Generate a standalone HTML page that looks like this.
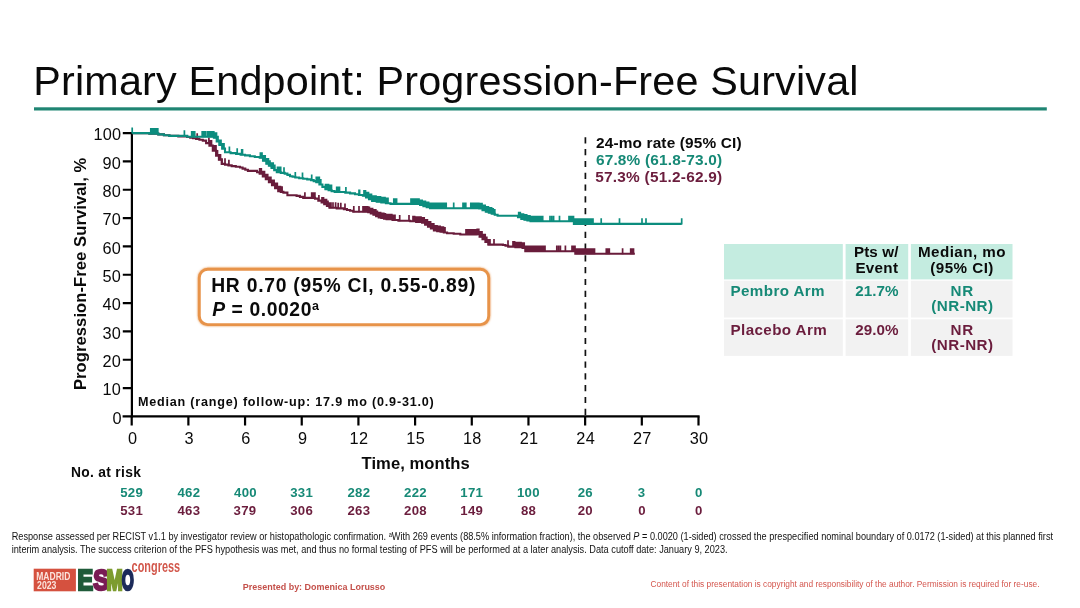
<!DOCTYPE html>
<html lang="en">
<head>
<meta charset="utf-8">
<title>Primary Endpoint: Progression-Free Survival</title>
<style>
html,body{margin:0;padding:0;background:#fff;}
body{width:1080px;height:608px;position:relative;overflow:hidden;}
svg{position:absolute;left:0;top:0;display:block;}
svg text{font-family:"Liberation Sans",Arial,sans-serif;white-space:pre;}
</style>
</head>
<body>
<svg width="1080" height="608" viewBox="0 0 1080 608">
<defs>
<filter id="glow" x="-5%" y="-20%" width="110%" height="140%"><feGaussianBlur in="SourceGraphic" stdDeviation="0.9" result="b"/><feMerge><feMergeNode in="b"/><feMergeNode in="SourceGraphic"/></feMerge></filter>
</defs>
<rect x="0" y="0" width="1080" height="608" fill="#fff"/>
<rect x="34" y="107.3" width="1012.8" height="3.2" fill="#1f8573"/>
<g>
<rect x="724" y="244" width="118.8" height="35.4" fill="#c4ece0"/><rect x="845.6" y="244" width="62.6" height="35.4" fill="#c4ece0"/><rect x="910.9" y="244" width="101.6" height="35.4" fill="#c4ece0"/>
<rect x="724" y="280.7" width="118.8" height="36.8" fill="#f2f2f2"/><rect x="845.6" y="280.7" width="62.6" height="36.8" fill="#f2f2f2"/><rect x="910.9" y="280.7" width="101.6" height="36.8" fill="#f2f2f2"/>
<rect x="724" y="319.3" width="118.8" height="36.6" fill="#f2f2f2"/><rect x="845.6" y="319.3" width="62.6" height="36.6" fill="#f2f2f2"/><rect x="910.9" y="319.3" width="101.6" height="36.6" fill="#f2f2f2"/>
</g>
<path d="M131.9 132v285.6" stroke="#000" stroke-width="2.2" fill="none"/>
<path d="M122.6 416.4H699.6" stroke="#000" stroke-width="2.3" fill="none"/>
<path d="M122.8 388.07H131.9M122.8 359.74H131.9M122.8 331.41H131.9M122.8 303.08H131.9M122.8 274.75H131.9M122.8 246.42H131.9M122.8 218.09H131.9M122.8 189.76H131.9M122.8 161.43H131.9M122.8 133.10H131.9M131.70 416.4V425.6M188.38 416.4V425.6M245.06 416.4V425.6M301.74 416.4V425.6M358.42 416.4V425.6M415.10 416.4V425.6M471.78 416.4V425.6M528.46 416.4V425.6M585.14 416.4V425.6M641.82 416.4V425.6M698.50 416.4V425.6" stroke="#000" stroke-width="2.2" fill="none"/>
<path d="M585.4 137.3V416.4" stroke="#111" stroke-width="1.7" stroke-dasharray="6.2 5.6" fill="none"/>
<path d="M132.2 133.1H149.4V133.6H158.3V134.4H163.9V135.2H169.4V135.9H178.3V136.4H187.2V137.0H190.2V137.6H193.1V138.3H196.1V138.9H199.4V139.8H202.8V140.6H206.1V143.1H209.4V145.6H212.8V150.6H216.1V155.6H218.9V159.8H221.7V163.9H225.0V164.6H228.4V165.4H231.7V166.1H235.8V166.8H240.0V167.5H242.6V168.6H245.3V169.8H247.9V170.9H254.5V170.9H257.1V172.2H259.7V173.6H262.8V176.4H265.8V179.3H268.9V182.1H272.0V185.2H275.1V188.2H278.2V191.3H280.8V191.9H283.4V192.6H287.4V195.3H296.6V195.9H299.9V196.9H303.2V197.9H315.0V198.6H318.3V200.6H321.6V202.5H324.2V204.3H326.9V206.0H329.5V207.8H336.7V208.4H343.9V209.1H347.0V210.0H350.1V210.8H353.2V211.7H368.2V212.1H370.8V213.4H373.4V214.8H376.1V216.1H378.7V217.4H381.3V218.0H384.0V218.7H386.6V219.3H392.5V220.0H398.4V220.7H410.3V221.3H416.2V221.9H422.1V222.6H425.1V224.6H428.0V226.6H430.9V228.5H433.9V230.5H437.2V231.2H440.5V231.8H443.8V232.5H447.1V233.2H453.7V233.8H460.3V234.5H476.6V234.1H479.6V236.7H482.5V239.3H485.4V242.0H488.4V244.6H502.9V245.0H505.5V245.8H508.2V246.6H515.4V247.2H522.6V247.9H525.3V251.2H572.6V251.2H575.3V253.8H634.8V253.8" fill="none" stroke="#691c3b" stroke-width="2.1" stroke-linejoin="miter"/>
<path d="M197.2 139.4v-6.1 M208.9 143.6v-6.1 M210.0 146.1v-6.1 M211.5 146.1v-6.1 M213.0 151.1v-6.1 M214.5 151.1v-6.1 M216.0 151.1v-6.1 M217.5 156.1v-6.1 M219.0 160.2v-6.1 M220.5 160.2v-6.1 M222.0 164.4v-6.1 M225.0 164.4v-6.1 M228.9 165.9v-6.1 M259.7 174.1v-6.1 M261.3 174.1v-6.1 M262.9 176.9v-6.1 M264.5 176.9v-6.1 M266.1 179.8v-6.1 M267.7 179.8v-6.1 M269.3 182.6v-6.1 M270.9 182.6v-6.1 M272.5 185.7v-6.1 M274.1 185.7v-6.1 M275.7 188.7v-6.1 M277.3 188.7v-6.1 M278.9 191.8v-6.1 M280.5 191.8v-6.1 M282.1 192.4v-6.1 M304.9 198.4v-6.1 M311.7 198.4v-6.1 M313.3 198.4v-6.1 M314.9 198.4v-6.1 M318.9 201.1v-6.1 M322.0 203.0v-6.1 M323.5 203.0v-6.1 M325.0 204.8v-6.1 M326.5 204.8v-6.1 M328.0 206.5v-6.1 M329.5 208.3v-6.1 M331.0 208.3v-6.1 M333.0 208.3v-6.1 M335.6 208.3v-6.1 M338.2 208.9v-6.1 M340.8 208.9v-6.1 M345.0 209.6v-6.1 M353.8 212.2v-6.1 M359.0 212.2v-6.1 M363.0 212.2v-6.1 M364.6 212.2v-6.1 M366.2 212.2v-6.1 M367.8 212.2v-6.1 M369.4 212.6v-6.1 M371.0 213.9v-6.1 M372.6 213.9v-6.1 M374.2 215.2v-6.1 M375.8 215.2v-6.1 M377.4 216.6v-6.1 M379.0 217.9v-6.1 M380.6 217.9v-6.1 M382.2 218.5v-6.1 M383.8 218.5v-6.1 M385.4 219.2v-6.1 M387.0 219.8v-6.1 M388.6 219.8v-6.1 M390.2 219.8v-6.1 M391.8 219.8v-6.1 M393.4 220.5v-6.1 M395.0 220.5v-6.1 M399.7 221.2v-6.1 M409.0 221.2v-6.1 M413.0 221.8v-6.1 M414.6 221.8v-6.1 M416.2 222.4v-6.1 M417.8 222.4v-6.1 M419.4 222.4v-6.1 M421.0 222.4v-6.1 M422.6 223.1v-6.1 M424.2 223.1v-6.1 M425.8 225.1v-6.1 M427.4 225.1v-6.1 M429.0 227.1v-6.1 M430.6 227.1v-6.1 M432.2 229.0v-6.1 M433.8 229.0v-6.1 M435.4 231.0v-6.1 M437.0 231.0v-6.1 M438.6 231.7v-6.1 M440.2 231.7v-6.1 M441.8 232.3v-6.1 M443.4 232.3v-6.1 M445.0 233.0v-6.1 M466.0 235.0v-6.1 M467.6 235.0v-6.1 M469.2 235.0v-6.1 M470.8 235.0v-6.1 M472.4 235.0v-6.1 M474.0 235.0v-6.1 M475.6 235.0v-6.1 M477.2 234.6v-6.1 M478.8 234.6v-6.1 M480.4 237.2v-6.1 M482.0 237.2v-6.1 M483.6 239.8v-6.1 M485.2 239.8v-6.1 M486.8 242.5v-6.1 M488.4 245.1v-6.1 M490.0 245.1v-6.1 M494.0 245.1v-6.1 M508.0 246.3v-6.1 M513.0 247.1v-6.1 M514.6 247.1v-6.1 M516.2 247.8v-6.1 M517.8 247.8v-6.1 M519.4 247.8v-6.1 M521.0 247.8v-6.1 M522.6 248.4v-6.1 M524.2 248.4v-6.1 M525.8 251.7v-6.1 M527.4 251.7v-6.1 M529.0 251.7v-6.1 M530.6 251.7v-6.1 M532.2 251.7v-6.1 M533.8 251.7v-6.1 M535.4 251.7v-6.1 M537.0 251.7v-6.1 M538.6 251.7v-6.1 M540.2 251.7v-6.1 M541.8 251.7v-6.1 M543.4 251.7v-6.1 M545.0 251.7v-6.1 M556.8 251.7v-6.1 M558.6 251.7v-6.1 M560.4 251.7v-6.1 M565.4 251.7v-6.1 M572.0 251.7v-6.1 M573.5 251.7v-6.1 M575.0 251.7v-6.1 M576.5 254.3v-6.1 M578.0 254.3v-6.1 M579.5 254.3v-6.1 M581.0 254.3v-6.1 M582.5 254.3v-6.1 M584.0 254.3v-6.1 M585.5 254.3v-6.1 M587.0 254.3v-6.1 M588.5 254.3v-6.1 M590.0 254.3v-6.1 M591.5 254.3v-6.1 M593.0 254.3v-6.1 M594.5 254.3v-6.1 M606.3 254.3v-6.1 M607.8 254.3v-6.1 M609.3 254.3v-6.1 M622.6 254.3v-6.1 M630.7 254.3v-6.1 M632.1 254.3v-6.1 M633.5 254.3v-6.1" stroke="#691c3b" stroke-width="1.7" fill="none"/>
<path d="M132.2 133.1H149.4V133.6H158.3V134.4H163.9V135.2H169.4V135.9H187.2V136.7H210.0V136.7H213.9V137.8H216.7V141.4H219.4V145.0H222.2V148.6H225.0V152.2H230.6V153.1H236.1V153.9H240.6V154.7H245.0V155.4H249.9V156.2H254.8V157.0H259.7V157.8H263.0V160.8H266.3V163.7H268.9V165.8H271.6V167.9H274.2V170.1H276.8V172.2H280.8V172.9H284.7V173.6H287.4V174.9H290.0V176.2H292.6V176.8H295.3V177.5H299.2V178.2H303.2V178.8H307.2V179.4H311.1V180.1H313.7V181.1H316.3V182.1H319.4V184.5H322.4V186.9H325.5V189.3H328.6V190.2H331.6V191.1H334.7V192.0H345.3V192.6H350.1V193.4H355.0V194.3H358.9V195.0H362.9V195.7H366.0V197.4H369.0V199.2H372.1V200.9H376.7V201.7H381.3V202.4H385.9V203.2H390.5V203.9H416.8V203.9H420.1V205.0H423.4V206.1H426.7V207.1H430.0V208.2H479.2V208.4H482.5V210.1H485.8V211.7H488.8V212.7H491.7V213.7H494.7V214.7H497.6V215.7H514.7V215.7H518.0V217.3H521.3V218.9H524.4V219.7H527.4V220.5H530.5V221.3H570.0V221.3H573.9V223.9H681.7V223.9" fill="none" stroke="#0c8d7e" stroke-width="2.1" stroke-linejoin="miter"/>
<path d="M132.2 133.6v-6.1 M150.8 134.1v-6.1 M152.2 134.1v-6.1 M153.6 134.1v-6.1 M155.0 134.1v-6.1 M156.4 134.1v-6.1 M157.8 134.1v-6.1 M184.4 136.4v-6.1 M191.7 137.2v-6.1 M193.2 137.2v-6.1 M194.7 137.2v-6.1 M202.2 137.2v-6.1 M203.8 137.2v-6.1 M205.4 137.2v-6.1 M207.4 137.2v-6.1 M209.0 137.2v-6.1 M210.6 137.2v-6.1 M212.2 137.2v-6.1 M213.8 137.2v-6.1 M215.0 138.3v-6.1 M216.5 138.3v-6.1 M218.0 141.9v-6.1 M219.5 145.5v-6.1 M221.0 145.5v-6.1 M222.5 149.1v-6.1 M224.0 149.1v-6.1 M229.4 152.7v-6.1 M237.2 154.4v-6.1 M241.7 155.2v-6.1 M242.5 155.2v-6.1 M260.4 158.3v-6.1 M262.0 158.3v-6.1 M263.6 161.2v-6.1 M265.2 161.2v-6.1 M266.8 164.2v-6.1 M268.4 164.2v-6.1 M270.0 166.3v-6.1 M271.6 168.4v-6.1 M273.2 168.4v-6.1 M274.8 170.6v-6.1 M277.5 172.7v-6.1 M279.1 172.7v-6.1 M280.7 172.7v-6.1 M284.0 173.4v-6.1 M295.3 178.0v-6.1 M302.5 178.7v-6.1 M311.7 180.6v-6.1 M316.3 182.6v-6.1 M317.8 182.6v-6.1 M319.3 182.6v-6.1 M320.8 185.0v-6.1 M325.5 189.8v-6.1 M327.0 189.8v-6.1 M328.5 189.8v-6.1 M330.0 190.7v-6.1 M331.5 190.7v-6.1 M336.7 192.5v-6.1 M338.1 192.5v-6.1 M339.5 192.5v-6.1 M345.9 193.1v-6.1 M359.0 195.5v-6.1 M359.6 195.5v-6.1 M364.0 196.2v-6.1 M365.5 196.2v-6.1 M367.0 197.9v-6.1 M368.5 197.9v-6.1 M370.0 199.7v-6.1 M371.5 199.7v-6.1 M373.0 201.4v-6.1 M374.5 201.4v-6.1 M376.0 201.4v-6.1 M377.5 202.2v-6.1 M379.0 202.2v-6.1 M380.5 202.2v-6.1 M382.0 202.9v-6.1 M383.5 202.9v-6.1 M385.0 202.9v-6.1 M386.5 203.7v-6.1 M388.0 203.7v-6.1 M393.8 204.4v-6.1 M395.2 204.4v-6.1 M396.6 204.4v-6.1 M411.0 204.4v-6.1 M412.6 204.4v-6.1 M414.2 204.4v-6.1 M415.8 204.4v-6.1 M417.4 204.4v-6.1 M419.0 204.4v-6.1 M420.6 205.5v-6.1 M422.2 205.5v-6.1 M423.8 206.6v-6.1 M425.4 206.6v-6.1 M427.0 207.6v-6.1 M428.6 207.6v-6.1 M430.2 208.7v-6.1 M431.8 208.7v-6.1 M433.4 208.7v-6.1 M435.0 208.7v-6.1 M436.6 208.7v-6.1 M438.2 208.7v-6.1 M439.8 208.7v-6.1 M441.4 208.7v-6.1 M443.0 208.7v-6.1 M444.6 208.7v-6.1 M446.2 208.7v-6.1 M453.7 208.7v-6.1 M463.0 208.7v-6.1 M464.4 208.7v-6.1 M465.8 208.7v-6.1 M470.8 208.7v-6.1 M472.4 208.7v-6.1 M474.0 208.7v-6.1 M475.6 208.7v-6.1 M477.2 208.7v-6.1 M478.8 208.7v-6.1 M480.4 208.9v-6.1 M482.0 208.9v-6.1 M483.6 210.6v-6.1 M485.2 210.6v-6.1 M486.8 212.2v-6.1 M488.4 212.2v-6.1 M490.0 213.2v-6.1 M491.6 213.2v-6.1 M493.2 214.2v-6.1 M494.8 215.2v-6.1 M518.7 217.8v-6.1 M520.3 217.8v-6.1 M521.9 219.4v-6.1 M523.5 219.4v-6.1 M525.1 220.2v-6.1 M526.7 220.2v-6.1 M528.3 221.0v-6.1 M529.9 221.0v-6.1 M531.5 221.8v-6.1 M533.1 221.8v-6.1 M534.7 221.8v-6.1 M536.3 221.8v-6.1 M537.9 221.8v-6.1 M539.5 221.8v-6.1 M541.1 221.8v-6.1 M542.7 221.8v-6.1 M550.0 221.8v-6.1 M551.8 221.8v-6.1 M553.6 221.8v-6.1 M559.5 221.8v-6.1 M569.0 221.8v-6.1 M570.5 221.8v-6.1 M572.0 221.8v-6.1 M573.5 221.8v-6.1 M575.0 224.4v-6.1 M576.5 224.4v-6.1 M578.0 224.4v-6.1 M579.5 224.4v-6.1 M581.0 224.4v-6.1 M582.5 224.4v-6.1 M584.0 224.4v-6.1 M585.5 224.4v-6.1 M587.0 224.4v-6.1 M588.5 224.4v-6.1 M590.0 224.4v-6.1 M591.5 224.4v-6.1 M593.0 224.4v-6.1 M601.2 224.4v-6.1 M619.5 224.4v-6.1 M642.0 224.4v-6.1 M646.0 224.4v-6.1 M681.7 224.4v-6.1" stroke="#0c8d7e" stroke-width="1.7" fill="none"/>

<rect x="199.3" y="269.2" width="289.4" height="55.4" rx="8.5" ry="8.5" fill="#fff" stroke="#e7934a" stroke-width="2.9" filter="url(#glow)"/>
<g>
<rect x="33.7" y="568.7" width="42.2" height="22.6" fill="#d5513f"/>
<g transform="translate(0,590.26) scale(0.2,0.2861)"><text y="0" style="font-size:100px;font-weight:bold" stroke-width="9" stroke-linejoin="miter"><tspan x="387.8" textLength="78.0" lengthAdjust="spacingAndGlyphs" fill="#1f5b3a" stroke="#1f5b3a">E</tspan><tspan x="466.4" textLength="79.5" lengthAdjust="spacingAndGlyphs" fill="#7a1c55" stroke="#7a1c55">S</tspan><tspan x="532.0" textLength="81.1" lengthAdjust="spacingAndGlyphs" fill="#7d9c2f" stroke="#7d9c2f">M</tspan><tspan x="608.9" textLength="60.4" lengthAdjust="spacingAndGlyphs" fill="#1c2b5a" stroke="#1c2b5a">O</tspan></text></g>
</g>
<text x="33.30" y="95.0" style="font-size:41.3px;font-weight:normal;letter-spacing:0.193px" fill="#0a0a0a">Primary Endpoint: Progression-Free Survival</text>
<text x="112.40" y="423.60" style="font-size:16.3px;font-weight:normal;letter-spacing:0.3px" fill="#0a0a0a">0</text>
<text x="102.40" y="395.27" style="font-size:16.3px;font-weight:normal;letter-spacing:0.3px" fill="#0a0a0a">10</text>
<text x="102.40" y="366.94" style="font-size:16.3px;font-weight:normal;letter-spacing:0.3px" fill="#0a0a0a">20</text>
<text x="102.40" y="338.61" style="font-size:16.3px;font-weight:normal;letter-spacing:0.3px" fill="#0a0a0a">30</text>
<text x="102.40" y="310.28" style="font-size:16.3px;font-weight:normal;letter-spacing:0.3px" fill="#0a0a0a">40</text>
<text x="102.40" y="281.95" style="font-size:16.3px;font-weight:normal;letter-spacing:0.3px" fill="#0a0a0a">50</text>
<text x="102.40" y="253.62" style="font-size:16.3px;font-weight:normal;letter-spacing:0.3px" fill="#0a0a0a">60</text>
<text x="102.40" y="225.29" style="font-size:16.3px;font-weight:normal;letter-spacing:0.3px" fill="#0a0a0a">70</text>
<text x="102.40" y="196.96" style="font-size:16.3px;font-weight:normal;letter-spacing:0.3px" fill="#0a0a0a">80</text>
<text x="102.40" y="168.63" style="font-size:16.3px;font-weight:normal;letter-spacing:0.3px" fill="#0a0a0a">90</text>
<text x="93.40" y="140.30" style="font-size:16.3px;font-weight:normal;letter-spacing:0.3px" fill="#0a0a0a">100</text>
<text x="127.90" y="443.7" style="font-size:16.3px;font-weight:normal;letter-spacing:0.3px" fill="#0a0a0a">0</text>
<text x="184.58" y="443.7" style="font-size:16.3px;font-weight:normal;letter-spacing:0.3px" fill="#0a0a0a">3</text>
<text x="241.26" y="443.7" style="font-size:16.3px;font-weight:normal;letter-spacing:0.3px" fill="#0a0a0a">6</text>
<text x="297.94" y="443.7" style="font-size:16.3px;font-weight:normal;letter-spacing:0.3px" fill="#0a0a0a">9</text>
<text x="349.62" y="443.7" style="font-size:16.3px;font-weight:normal;letter-spacing:0.3px" fill="#0a0a0a">12</text>
<text x="406.30" y="443.7" style="font-size:16.3px;font-weight:normal;letter-spacing:0.3px" fill="#0a0a0a">15</text>
<text x="462.98" y="443.7" style="font-size:16.3px;font-weight:normal;letter-spacing:0.3px" fill="#0a0a0a">18</text>
<text x="519.66" y="443.7" style="font-size:16.3px;font-weight:normal;letter-spacing:0.3px" fill="#0a0a0a">21</text>
<text x="576.34" y="443.7" style="font-size:16.3px;font-weight:normal;letter-spacing:0.3px" fill="#0a0a0a">24</text>
<text x="633.02" y="443.7" style="font-size:16.3px;font-weight:normal;letter-spacing:0.3px" fill="#0a0a0a">27</text>
<text x="689.70" y="443.7" style="font-size:16.3px;font-weight:normal;letter-spacing:0.3px" fill="#0a0a0a">30</text>
<text transform="translate(86.10,390.10) rotate(-90)" style="font-size:16.6px;font-weight:bold;letter-spacing:0.07px" fill="#0a0a0a">Progression-Free Survival, %</text>
<text x="361.50" y="468.6" style="font-size:16.6px;font-weight:bold;letter-spacing:0.064px" fill="#0a0a0a">Time, months</text>
<text x="70.90" y="476.5" style="font-size:13.8px;font-weight:bold;letter-spacing:0.33px" fill="#0a0a0a">No. at risk</text>
<text x="120.20" y="496.9" style="font-size:13.2px;font-weight:bold;letter-spacing:0.3px" fill="#168976">529</text>
<text x="120.20" y="514.6" style="font-size:13.2px;font-weight:bold;letter-spacing:0.3px" fill="#6b1d3d">531</text>
<text x="177.38" y="496.9" style="font-size:13.2px;font-weight:bold;letter-spacing:0.3px" fill="#168976">462</text>
<text x="177.38" y="514.6" style="font-size:13.2px;font-weight:bold;letter-spacing:0.3px" fill="#6b1d3d">463</text>
<text x="234.06" y="496.9" style="font-size:13.2px;font-weight:bold;letter-spacing:0.3px" fill="#168976">400</text>
<text x="233.56" y="514.6" style="font-size:13.2px;font-weight:bold;letter-spacing:0.3px" fill="#6b1d3d">379</text>
<text x="290.24" y="496.9" style="font-size:13.2px;font-weight:bold;letter-spacing:0.3px" fill="#168976">331</text>
<text x="290.24" y="514.6" style="font-size:13.2px;font-weight:bold;letter-spacing:0.3px" fill="#6b1d3d">306</text>
<text x="347.42" y="496.9" style="font-size:13.2px;font-weight:bold;letter-spacing:0.3px" fill="#168976">282</text>
<text x="347.42" y="514.6" style="font-size:13.2px;font-weight:bold;letter-spacing:0.3px" fill="#6b1d3d">263</text>
<text x="404.10" y="496.9" style="font-size:13.2px;font-weight:bold;letter-spacing:0.3px" fill="#168976">222</text>
<text x="404.10" y="514.6" style="font-size:13.2px;font-weight:bold;letter-spacing:0.3px" fill="#6b1d3d">208</text>
<text x="460.28" y="496.9" style="font-size:13.2px;font-weight:bold;letter-spacing:0.3px" fill="#168976">171</text>
<text x="460.28" y="514.6" style="font-size:13.2px;font-weight:bold;letter-spacing:0.3px" fill="#6b1d3d">149</text>
<text x="516.96" y="496.9" style="font-size:13.2px;font-weight:bold;letter-spacing:0.3px" fill="#168976">100</text>
<text x="520.96" y="514.6" style="font-size:13.2px;font-weight:bold;letter-spacing:0.3px" fill="#6b1d3d">88</text>
<text x="577.64" y="496.9" style="font-size:13.2px;font-weight:bold;letter-spacing:0.3px" fill="#168976">26</text>
<text x="577.64" y="514.6" style="font-size:13.2px;font-weight:bold;letter-spacing:0.3px" fill="#6b1d3d">20</text>
<text x="637.82" y="496.9" style="font-size:13.2px;font-weight:bold;letter-spacing:0.3px" fill="#168976">3</text>
<text x="638.32" y="514.6" style="font-size:13.2px;font-weight:bold;letter-spacing:0.3px" fill="#6b1d3d">0</text>
<text x="695.00" y="496.9" style="font-size:13.2px;font-weight:bold;letter-spacing:0.3px" fill="#168976">0</text>
<text x="695.00" y="514.6" style="font-size:13.2px;font-weight:bold;letter-spacing:0.3px" fill="#6b1d3d">0</text>
<text x="137.90" y="406.0" style="font-size:12.6px;font-weight:bold;letter-spacing:0.795px" fill="#0a0a0a">Median (range) follow-up: 17.9 mo (0.9-31.0)</text>
<text x="596.00" y="147.8" style="font-size:15.4px;font-weight:bold;letter-spacing:0.15px" fill="#0a0a0a">24-mo rate (95% CI)</text>
<text x="595.90" y="165.0" style="font-size:15.4px;font-weight:bold;letter-spacing:0.194px" fill="#168976">67.8% (61.8-73.0)</text>
<text x="595.20" y="181.9" style="font-size:15.4px;font-weight:bold;letter-spacing:0.237px" fill="#6b1d3d">57.3% (51.2-62.9)</text>
<text x="211.20" y="291.7" style="font-size:19.3px;font-weight:bold;letter-spacing:0.762px" fill="#0a0a0a">HR 0.70 (95% CI, 0.55-0.89)</text>
<text x="730.50" y="296.0" style="font-size:15.2px;font-weight:bold;letter-spacing:0.389px" fill="#168976">Pembro Arm</text>
<text x="730.50" y="334.7" style="font-size:15.2px;font-weight:bold;letter-spacing:0.39px" fill="#6b1d3d">Placebo Arm</text>
<text x="853.90" y="257.2" style="font-size:15.2px;font-weight:bold;letter-spacing:0.12px" fill="#0a0a0a">Pts w/</text>
<text x="855.40" y="273.0" style="font-size:15.2px;font-weight:bold;letter-spacing:0.3px" fill="#0a0a0a">Event</text>
<text x="918.00" y="257.2" style="font-size:15.2px;font-weight:bold;letter-spacing:0.433px" fill="#0a0a0a">Median, mo</text>
<text x="930.20" y="273.2" style="font-size:15.2px;font-weight:bold;letter-spacing:0.471px" fill="#0a0a0a">(95% CI)</text>
<text x="855.30" y="296.0" style="font-size:15.2px;font-weight:bold;letter-spacing:0.05px" fill="#168976">21.7%</text>
<text x="855.30" y="334.7" style="font-size:15.2px;font-weight:bold;letter-spacing:0.05px" fill="#6b1d3d">29.0%</text>
<text x="950.50" y="296.0" style="font-size:15.2px;font-weight:bold;letter-spacing:0.9px" fill="#168976">NR</text>
<text x="931.20" y="311.2" style="font-size:15.2px;font-weight:bold;letter-spacing:0.483px" fill="#168976">(NR-NR)</text>
<text x="950.50" y="334.7" style="font-size:15.2px;font-weight:bold;letter-spacing:0.9px" fill="#6b1d3d">NR</text>
<text x="931.20" y="349.8" style="font-size:15.2px;font-weight:bold;letter-spacing:0.483px" fill="#6b1d3d">(NR-NR)</text>
<text x="212.20" y="315.7" style="font-size:19.3px;font-weight:bold;letter-spacing:0.6px" fill="#0a0a0a"><tspan font-style="italic">P</tspan> = 0.0020<tspan dy="-5.6" style="font-size:12.5px">a</tspan></text>
<text transform="translate(11.69,540) scale(0.8124,1)" style="font-size:11.3px;font-weight:normal;" fill="#111">Response assessed per RECIST v1.1 by investigator review or histopathologic confirmation. <tspan dy="-3.5" style="font-size:7px">a</tspan><tspan dy="3.5">With</tspan> 269 events (88.5% information fraction), the observed <tspan font-style="italic">P</tspan> = 0.0020 (1-sided) crossed the prespecified nominal boundary of 0.0172 (1-sided) at this planned first</text>
<text transform="translate(242.81,590) scale(0.9354,1)" style="font-size:9.6px;font-weight:bold;" fill="#c4504a">Presented by: Domenica Lorusso</text>
<text transform="translate(650.50,587.3) scale(0.8685,1)" style="font-size:9.6px;font-weight:normal;" fill="#d4564e">Content of this presentation is copyright and responsibility of the author. Permission is required for re-use.</text>
<text transform="translate(11.69,553.3) scale(0.8138,1)" style="font-size:11.3px;font-weight:normal;" fill="#111">interim analysis. The success criterion of the PFS hypothesis was met, and thus no formal testing of PFS will be performed at a later analysis. Data cutoff date: January 9, 2023.</text>
<text transform="translate(36.26,579.6) scale(0.8359,1)" style="font-size:10.2px;font-weight:bold;" fill="#fbe3dc">MADRID</text>
<text transform="translate(37.10,588.6) scale(0.8545,1)" style="font-size:10.2px;font-weight:bold;" fill="#fbe3dc">2023</text>
<text transform="translate(131.60,572.4) scale(0.7000,1)" style="font-size:15.6px;font-weight:bold;" fill="#d2574b">congress</text>
</svg>
</body>
</html>
